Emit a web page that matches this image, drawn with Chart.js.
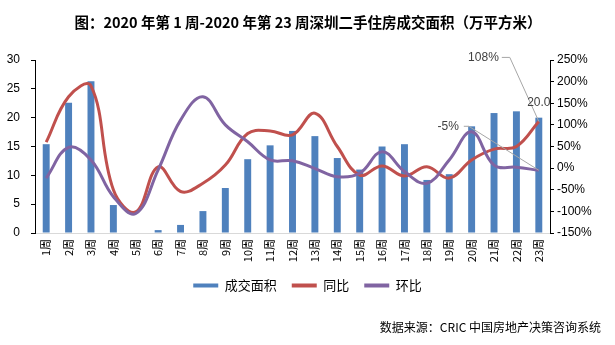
<!DOCTYPE html>
<html><head><meta charset="utf-8">
<script src="https://cdn.jsdelivr.net/npm/chart.js@4.4.0/dist/chart.umd.min.js"></script>
<style>html,body{margin:0;padding:0;background:#fff;} #wrap{width:615px;height:345px;position:relative;}</style>
</head><body><div id="wrap"><canvas id="c" width="615" height="345"></canvas></div>
<script>
const categories = ['1周','2周','3周','4周','5周','6周','7周','8周','9周','10周','11周','12周','13周','14周','15周','16周','17周','18周','19周','20周','21周','22周','23周'];
const areaValues = [15.4,22.6,26.3,4.85,0,0.5,1.4,3.8,7.8,12.8,15.2,17.7,16.8,13.0,11.0,15.0,15.4,9.2,10.2,18.5,20.8,21.1,20.0];
const yoyValues = [60,165,190,-50,-101,3,-54,-35,7,80,86,77,127,50,-16,5,-18,3,-23,19,44,50,108];
const momValues = [-23,48,19,-66,-105,-4,111,165,100,61,19,17,-1,-20,-12,38,-8,-35,19,84,7,2,-5];
const leftTicks = [0,5,10,15,20,25,30];
const rightTicks = [-150,-100,-50,0,50,100,150,200,250];
const titleText = '图：2020 年第 1 周-2020 年第 23 周深圳二手住房成交面积（万平方米）';
const sourceText = '数据来源：CRIC 中国房地产决策咨询系统';
const seriesNames = ['成交面积','同比','环比'];

const BLUE = '#4F81BD', RED = '#C0504D', PURPLE = '#8064A2';
const CJK = '"Noto Sans CJK SC", "Liberation Sans", sans-serif';
const NUM = '"Liberation Sans", sans-serif';

const extras = {
  id: 'extras',
  afterDraw(chart) {
    const ctx = chart.ctx;
    ctx.save();
    // title
    ctx.fillStyle = '#000';
    ctx.font = 'bold 14.5px ' + CJK;
    ctx.textAlign = 'center';
    ctx.textBaseline = 'middle';
    ctx.fillText(titleText, 308, 22);
    // source
    ctx.font = '12px ' + CJK;
    ctx.textAlign = 'right';
    ctx.fillText(sourceText, 601, 327);
    // data labels with leader lines
    const bar = chart.getDatasetMeta(0).data[22];
    const pr = chart.getDatasetMeta(1).data[22];
    const pp = chart.getDatasetMeta(2).data[22];
    ctx.strokeStyle = '#A6A6A6';
    ctx.lineWidth = 1;
    ctx.font = '12px ' + NUM;
    ctx.fillStyle = '#404040';
    // 108%
    let tx = pr.x - 40, ty = pr.y - 64;
    ctx.beginPath(); ctx.moveTo(tx + 3, ty); ctx.lineTo(tx + 11, ty); ctx.lineTo(pr.x, pr.y); ctx.stroke();
    ctx.textAlign = 'right';
    ctx.fillText(yoyValues[22] + '%', tx, ty);
    // -5%
    tx = pp.x - 80; ty = pp.y - 44;
    ctx.beginPath(); ctx.moveTo(tx + 5, ty); ctx.lineTo(tx + 10, ty); ctx.lineTo(pp.x, pp.y); ctx.stroke();
    ctx.fillText(momValues[22] + '%', tx, ty);
    // 20.0
    ctx.textAlign = 'center';
    ctx.fillText(areaValues[22].toFixed(1), bar.x, bar.y - 15);
    ctx.restore();
  }
};

new Chart(document.getElementById('c'), {
  data: {
    labels: categories,
    datasets: [
      { type: 'bar', label: seriesNames[0], data: areaValues, backgroundColor: BLUE, yAxisID: 'y', order: 3,
        barPercentage: 0.31, categoryPercentage: 1 },
      { type: 'line', label: seriesNames[1], data: yoyValues, borderColor: RED, backgroundColor: RED, borderWidth: 3,
        pointRadius: 0, tension: 0.4, yAxisID: 'y1', order: 2 },
      { type: 'line', label: seriesNames[2], data: momValues, borderColor: PURPLE, backgroundColor: PURPLE, borderWidth: 3,
        pointRadius: 0, tension: 0.4, yAxisID: 'y1', order: 1 }
    ]
  },
  options: {
    responsive: false,
    animation: false,
    layout: { padding: { top: 60, left: 0, right: 0, bottom: 43 } },
    plugins: {
      tooltip: { enabled: false },
      legend: {
        position: 'bottom',
        labels: {
          boxWidth: 25, boxHeight: 4, padding: 15, color: '#000',
          font: { family: CJK, size: 13 },
          generateLabels(chart) {
            return chart.data.datasets.map((d, i) => ({
              text: d.label, fillStyle: d.type === 'bar' ? BLUE : d.borderColor,
              strokeStyle: d.type === 'bar' ? BLUE : d.borderColor, lineWidth: 0, datasetIndex: i, hidden: false
            }));
          }
        }
      }
    },
    scales: {
      x: {
        offset: true,
        grid: { display: false, drawTicks: false },
        border: { display: true, color: '#D9D9D9' },
        ticks: { minRotation: 90, maxRotation: 90, autoSkip: false, padding: 6, color: '#000', font: { family: CJK, size: 11 } },
        afterFit(s) { s.height = 31; }
      },
      y: {
        position: 'left', min: 0, max: 30,
        afterBuildTicks(s) { s.ticks = leftTicks.map(v => ({ value: v })); },
        grid: { drawOnChartArea: false, drawTicks: true, tickLength: 4, color: '#000' },
        border: { display: true, color: '#000' },
        ticks: { padding: 11, color: '#000', font: { family: NUM, size: 12 } },
        afterFit(s) { s.width = 35; }
      },
      y1: {
        position: 'right', min: -150, max: 250,
        afterBuildTicks(s) { s.ticks = rightTicks.map(v => ({ value: v })); },
        grid: { drawOnChartArea: false, drawTicks: true, tickLength: 4, color: '#000' },
        border: { display: true, color: '#000' },
        ticks: { padding: 3, color: '#000', font: { family: NUM, size: 12 }, callback: v => v + '%' },
        afterFit(s) { s.width = 65; }
      }
    }
  },
  plugins: [extras]
});
</script></body></html>
